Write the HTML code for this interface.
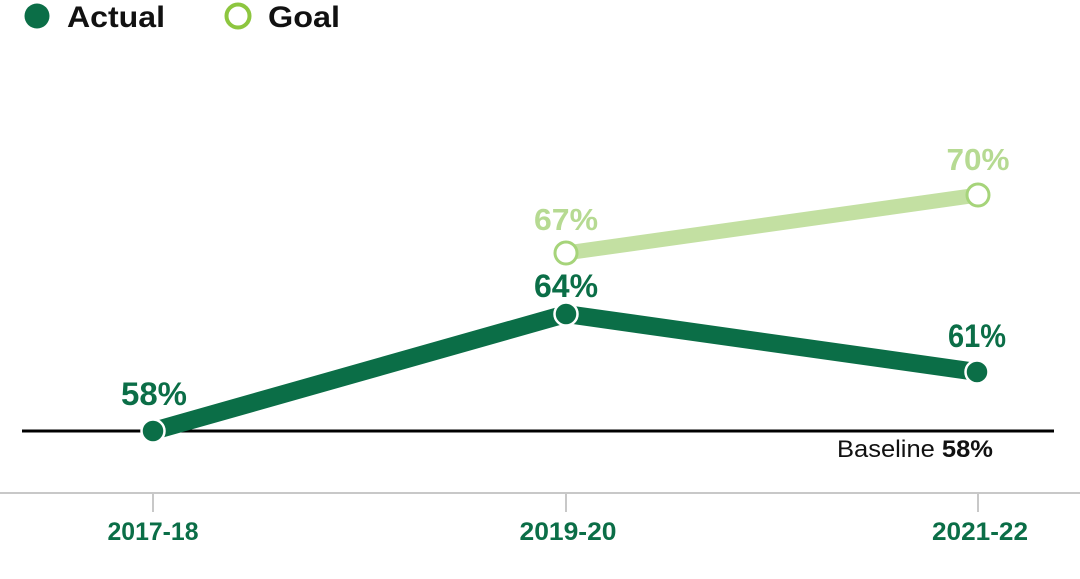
<!DOCTYPE html>
<html>
<head>
<meta charset="utf-8">
<style>
html,body{margin:0;padding:0;background:#fff;}
svg{display:block;}
text{font-family:"Liberation Sans",sans-serif;}
</style>
</head>
<body>
<svg width="1080" height="579" viewBox="0 0 1080 579" xmlns="http://www.w3.org/2000/svg">
  <!-- Legend -->
  <circle cx="37" cy="16" r="12.5" fill="#0b6e47"/>
  <text x="67" y="27" font-size="30" font-weight="bold" fill="#111" textLength="98" lengthAdjust="spacingAndGlyphs">Actual</text>
  <circle cx="238" cy="16" r="11.5" fill="#fff" stroke="#8dc63f" stroke-width="4"/>
  <text x="268" y="27" font-size="30" font-weight="bold" fill="#111" textLength="72" lengthAdjust="spacingAndGlyphs">Goal</text>

  <!-- Axis -->
  <line x1="0" y1="493" x2="1080" y2="493" stroke="#c8c8c8" stroke-width="2"/>
  <line x1="153" y1="493" x2="153" y2="512" stroke="#c8c8c8" stroke-width="2"/>
  <line x1="566" y1="493" x2="566" y2="512" stroke="#c8c8c8" stroke-width="2"/>
  <line x1="978" y1="493" x2="978" y2="512" stroke="#c8c8c8" stroke-width="2"/>
  <text x="153" y="540" font-size="25" font-weight="bold" fill="#0b6e47" text-anchor="middle" textLength="91" lengthAdjust="spacingAndGlyphs">2017-18</text>
  <text x="568" y="540" font-size="25" font-weight="bold" fill="#0b6e47" text-anchor="middle" textLength="97" lengthAdjust="spacingAndGlyphs">2019-20</text>
  <text x="980" y="540" font-size="25" font-weight="bold" fill="#0b6e47" text-anchor="middle" textLength="96" lengthAdjust="spacingAndGlyphs">2021-22</text>

  <!-- Baseline -->
  <line x1="22" y1="431" x2="1054" y2="431" stroke="#000" stroke-width="3"/>
  <text x="837" y="457" font-size="24" fill="#111" textLength="156" lengthAdjust="spacingAndGlyphs">Baseline <tspan font-weight="bold">58%</tspan></text>

  <!-- Goal series -->
  <line x1="566" y1="253" x2="978" y2="195" stroke="#c3e0a2" stroke-width="15"/>
  <circle cx="566" cy="253" r="11" fill="#fff" stroke="#a6d47a" stroke-width="3"/>
  <circle cx="978" cy="195" r="11" fill="#fff" stroke="#a6d47a" stroke-width="3"/>
  <text x="566" y="230" font-size="31" font-weight="bold" fill="#b6da92" text-anchor="middle" textLength="64" lengthAdjust="spacingAndGlyphs">67%</text>
  <text x="978" y="170" font-size="31" font-weight="bold" fill="#b6da92" text-anchor="middle" textLength="63" lengthAdjust="spacingAndGlyphs">70%</text>

  <!-- Actual series -->
  <polyline points="153,431 566,314 977,372" fill="none" stroke="#0b6e47" stroke-width="18" stroke-linejoin="round"/>
  <circle cx="153" cy="431" r="11.5" fill="#0b6e47" stroke="#fff" stroke-width="2.5"/>
  <circle cx="566" cy="314" r="11.5" fill="#0b6e47" stroke="#fff" stroke-width="2.5"/>
  <circle cx="977" cy="372" r="11.5" fill="#0b6e47" stroke="#fff" stroke-width="2.5"/>
  <text x="154" y="405" font-size="32" font-weight="bold" fill="#0b6e47" text-anchor="middle" textLength="66" lengthAdjust="spacingAndGlyphs">58%</text>
  <text x="566" y="297" font-size="32" font-weight="bold" fill="#0b6e47" text-anchor="middle" textLength="64" lengthAdjust="spacingAndGlyphs">64%</text>
  <text x="977" y="347" font-size="32" font-weight="bold" fill="#0b6e47" text-anchor="middle" textLength="58" lengthAdjust="spacingAndGlyphs">61%</text>
</svg>
</body>
</html>
